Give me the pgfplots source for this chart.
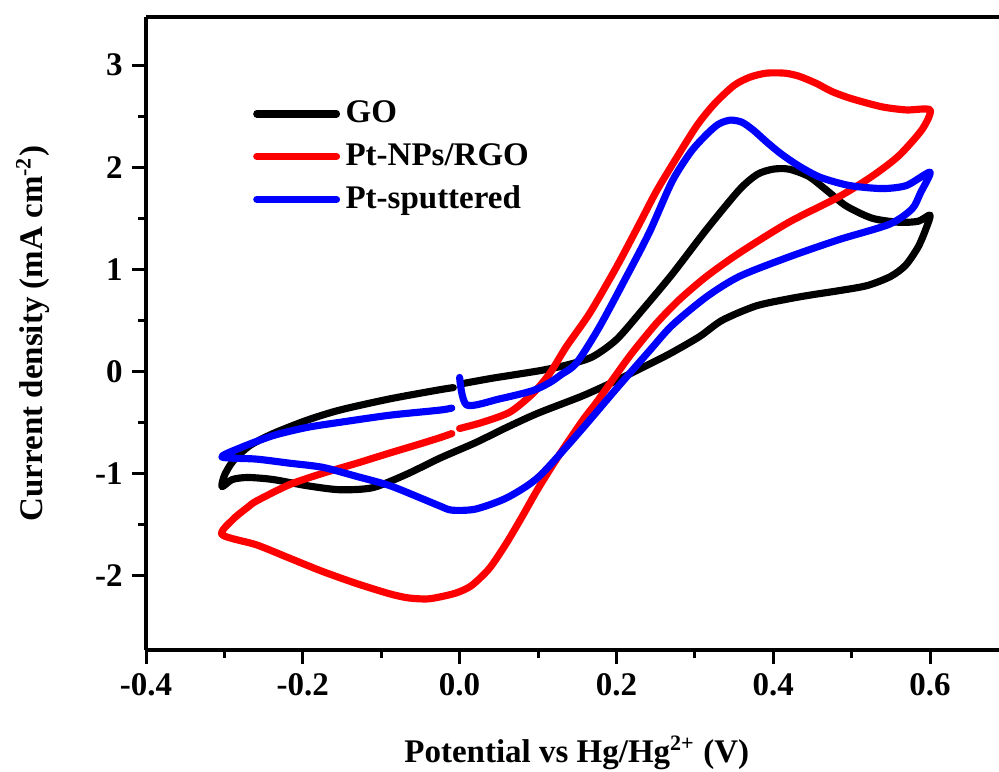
\documentclass[border=0pt]{standalone}
\usepackage{fontspec}
\setmainfont{Liberation Serif}
\usepackage{pgfplots}
\pgfplotsset{compat=1.18}

\begin{document}
\begin{tikzpicture}
\begin{axis}[
  width=310.2pt, height=230.2pt, scale only axis,
  xmin=-0.4, xmax=0.688, ymin=-2.73, ymax=3.47,
  axis x line=box, axis y line=left,
  axis line style={-, line width=1.5pt},
  xtick={-0.4,-0.2,0,0.2,0.4,0.6},
  xticklabels={-0.4,-0.2,0.0,0.2,0.4,0.6},
  ytick={-2,-1,0,1,2,3},
  yticklabels={-2,-1,0,1,2,3},
  minor x tick num=1, minor y tick num=1,
  xtick pos=left, ytick pos=left, xticklabel pos=left,
  tick align=outside,
  major tick length=5pt, minor tick length=2.8pt,
  every tick/.style={black, line width=1.1pt},
  tick label style={font=\bfseries\fontsize{12}{14}\selectfont},
  every axis x label/.style={at={(axis description cs:0.505,-0.178)}, anchor=base,
    font=\bfseries\fontsize{12}{14}\selectfont},
  every axis y label/.style={at={(axis description cs:-0.1325,0.5)}, rotate=90, anchor=center,
    font=\bfseries\fontsize{12}{14}\selectfont},
  xlabel={Potential vs Hg/Hg\textsuperscript{2+} (V)},
  ylabel={Current density (mA cm\textsuperscript{-2})},
  legend style={at={(axis description cs:0.125,0.877)}, anchor=north west,
    draw=none, fill=none, font=\bfseries\fontsize{12}{14}\selectfont,
    row sep=2pt, inner sep=0pt, nodes={inner sep=2pt}},
  legend cell align=left,
  legend image code/.code={\draw[#1, line width=2.6pt, line cap=round] (0pt,0pt) -- (29pt,0pt);},
  cv/.style={line width=2.6pt, line join=round, line cap=round, smooth, tension=0.45},
]
% GO
\addplot[black, cv] coordinates {
(0.004,-0.12) (0.04,-0.07) (0.073,-0.03) (0.105,0.01) (0.136,0.06) (0.169,0.14)
(0.2,0.31) (0.233,0.6) (0.271,0.95) (0.315,1.39) (0.357,1.78) (0.38,1.93)
(0.4,1.98) (0.42,1.98) (0.445,1.91) (0.467,1.78) (0.493,1.62) (0.526,1.5)
(0.56,1.46) (0.585,1.47) (0.6,1.53) (0.595,1.4) (0.585,1.22) (0.569,1.04)
(0.55,0.93) (0.52,0.84) (0.484,0.79) (0.45,0.75) (0.42,0.71) (0.378,0.64)
(0.335,0.5) (0.306,0.34) (0.27,0.18) (0.242,0.07) (0.2,-0.09) (0.157,-0.24)
(0.1,-0.41) (0.06,-0.55) (0.02,-0.7) (-0.025,-0.85) (-0.068,-1.01) (-0.111,-1.14)
(-0.153,-1.16) (-0.195,-1.12) (-0.238,-1.06) (-0.27,-1.04) (-0.29,-1.06) (-0.303,-1.13)
(-0.3,-1.02) (-0.289,-0.88) (-0.268,-0.73) (-0.238,-0.61) (-0.195,-0.48) (-0.153,-0.38)
(-0.089,-0.27) (-0.025,-0.18) (-0.008,-0.16)
};
\addlegendentry{GO}
% Pt-NPs/RGO
\addplot[red, cv] coordinates {
(0.0,-0.56) (0.029,-0.5) (0.064,-0.4) (0.093,-0.22) (0.115,-0.02) (0.136,0.24)
(0.166,0.57) (0.2,1.02) (0.229,1.44) (0.25,1.75) (0.271,2.02) (0.302,2.4)
(0.325,2.62) (0.35,2.8) (0.37,2.88) (0.391,2.92) (0.415,2.92) (0.433,2.89)
(0.455,2.82) (0.475,2.74) (0.5,2.67) (0.539,2.59) (0.57,2.56) (0.6,2.56)
(0.59,2.37) (0.56,2.11) (0.526,1.91) (0.484,1.71) (0.42,1.46) (0.357,1.16)
(0.315,0.93) (0.28,0.7) (0.251,0.47) (0.22,0.18) (0.2,-0.03) (0.175,-0.3)
(0.157,-0.48) (0.127,-0.82) (0.1,-1.15) (0.08,-1.42) (0.06,-1.68) (0.038,-1.93)
(0.015,-2.1) (-0.004,-2.17) (-0.025,-2.21) (-0.042,-2.23) (-0.065,-2.22) (-0.089,-2.18)
(-0.131,-2.08) (-0.175,-1.96) (-0.217,-1.83) (-0.259,-1.7) (-0.303,-1.6) (-0.289,-1.45)
(-0.27,-1.33) (-0.259,-1.27) (-0.217,-1.11) (-0.175,-1.0) (-0.131,-0.9) (-0.089,-0.8)
(-0.05,-0.71) (-0.025,-0.65) (-0.01,-0.61)
};
\addlegendentry{Pt-NPs/RGO}
% Pt-sputtered
\addplot[blue, cv] coordinates {
(0.0,-0.06) (0.009,-0.33) (0.051,-0.27) (0.093,-0.19) (0.115,-0.11) (0.13,-0.03)
(0.149,0.08) (0.178,0.43) (0.213,0.93) (0.242,1.36) (0.271,1.86) (0.295,2.15)
(0.315,2.32) (0.33,2.42) (0.345,2.46) (0.36,2.44) (0.375,2.36) (0.391,2.25)
(0.41,2.13) (0.433,2.01) (0.46,1.9) (0.497,1.82) (0.539,1.79) (0.57,1.82)
(0.6,1.95) (0.588,1.75) (0.577,1.59) (0.548,1.44) (0.484,1.29) (0.42,1.12)
(0.357,0.93) (0.315,0.73) (0.271,0.45) (0.242,0.2) (0.2,-0.17) (0.15,-0.62)
(0.1,-1.04) (0.06,-1.24) (0.02,-1.35) (-0.01,-1.36) (-0.025,-1.32) (-0.047,-1.25)
(-0.089,-1.12) (-0.131,-1.03) (-0.175,-0.94) (-0.217,-0.9) (-0.259,-0.86) (-0.303,-0.84)
(-0.28,-0.75) (-0.238,-0.63) (-0.195,-0.55) (-0.153,-0.5) (-0.089,-0.43) (-0.025,-0.38)
(-0.01,-0.36)
};
\addlegendentry{Pt-sputtered}
\end{axis}
\pgfresetboundingbox
\path[use as bounding box] ([shift={(-53.1pt,-44pt)}]current axis.south west)
  rectangle ([shift={(0pt,6.2pt)}]current axis.north east);
\end{tikzpicture}
\end{document}
